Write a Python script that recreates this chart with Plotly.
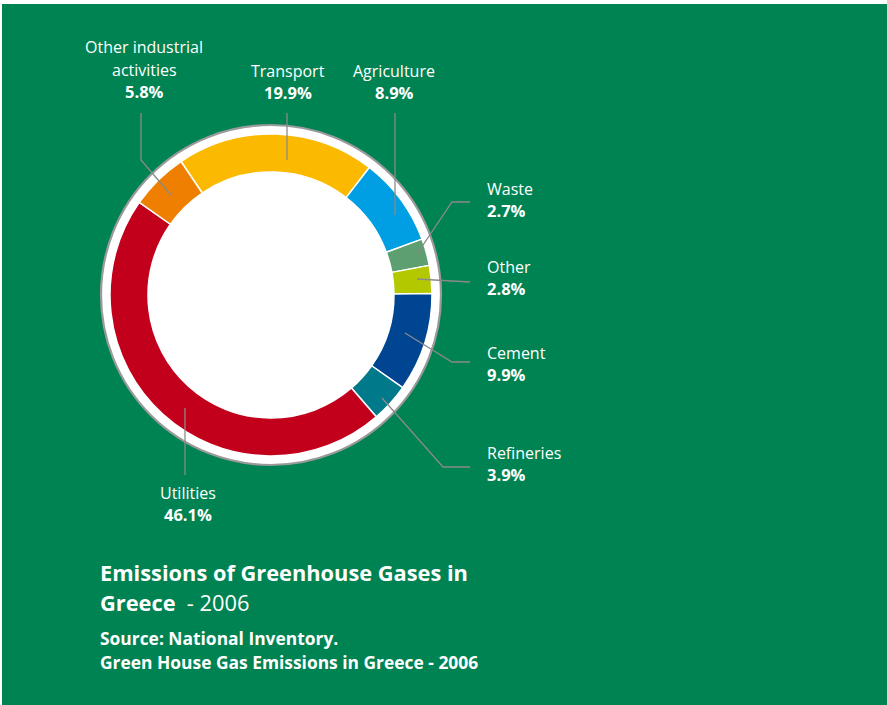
import plotly.graph_objects as go

# ---- data ----
categories = ["Transport", "Agriculture", "Waste", "Other", "Cement",
              "Refineries", "Utilities", "Other industrial activities"]
shares = [19.9, 8.9, 2.7, 2.8, 9.9, 3.9, 46.1, 5.8]
label_lines = [["Transport"], ["Agriculture"], ["Waste"], ["Other"], ["Cement"],
               ["Refineries"], ["Utilities"], ["Other industrial", "activities"]]
title_main = "Emissions of Greenhouse Gases in"
title_main2 = "Greece"
title_year = "  - 2006"
source_lines = ["Source: National Inventory.",
                "Green House Gas Emissions in Greece - 2006"]

# ---- style / layout ----
colors = ["#FBBA00", "#009FE3", "#5E9F72", "#B4C800", "#004592",
          "#007A8A", "#C2001B", "#EE7F00"]
W, H = 887, 705
BG = "#008352"
CX, CY = 271, 295
R_OUT, R_IN, R_RING = 161, 123, 170
FONT = "Open Sans"
LEAD = "#8a8a8a"

# label anchor (x, y of first line, xanchor) per category
label_pos = {
    "Transport": (288, 71, "center"),
    "Agriculture": (394, 71, "center"),
    "Waste": (485, 189, "left"),
    "Other": (485, 267, "left"),
    "Cement": (485, 353, "left"),
    "Refineries": (485, 453, "left"),
    "Utilities": (188, 493, "center"),
    "Other industrial activities": (144, 47, "center"),
}
LINE_GAP = 23
# leader polylines (pixel coords)
leaders = {
    "Transport": [(287, 113), (287, 160)],
    "Agriculture": [(395, 113), (395, 215)],
    "Waste": [(470, 202), (452, 202), (417, 254)],
    "Other": [(470, 282), (417, 279)],
    "Cement": [(470, 362), (452, 362), (405, 333)],
    "Refineries": [(470, 467), (443, 467), (382, 398)],
    "Utilities": [(185, 408), (185, 475)],
    "Other industrial activities": [(141, 113), (141, 160), (171, 195)],
}

fig = go.Figure()

fig.add_trace(go.Pie(
    labels=categories, values=shares, sort=False, direction="clockwise",
    rotation=-34, hole=R_IN / R_OUT,
    marker=dict(colors=colors, line=dict(color="white", width=1.5)),
    textinfo="none", hoverinfo="label+percent", showlegend=False,
    domain=dict(x=[(CX - R_OUT) / W, (CX + R_OUT) / W],
                y=[1 - (CY + R_OUT) / H, 1 - (CY - R_OUT) / H]),
))

shapes = [
    dict(type="rect", xref="x", yref="y", x0=2, x1=W, y0=4, y1=H,
         fillcolor=BG, line=dict(width=0), layer="below"),
    dict(type="circle", xref="x", yref="y", x0=CX - R_RING, x1=CX + R_RING,
         y0=CY - R_RING, y1=CY + R_RING, fillcolor="white",
         line=dict(color="#9a9a9a", width=2.2), layer="below"),
]
for cat in categories:
    pts = leaders[cat]
    path = "M " + " L ".join(f"{x},{y}" for x, y in pts)
    shapes.append(dict(type="path", xref="x", yref="y", path=path,
                       line=dict(color=LEAD, width=1.3)))

annotations = []
for cat, lines, v in zip(categories, label_lines, shares):
    x, y, xa = label_pos[cat]
    for i, t in enumerate(lines):
        annotations.append(dict(x=x, y=y + i * LINE_GAP, xref="x", yref="y",
                                text=t, showarrow=False, xanchor=xa, yanchor="middle",
                                font=dict(family=FONT, size=16, color="white")))
    annotations.append(dict(x=x, y=y + len(lines) * LINE_GAP - 1.5, xref="x", yref="y",
                            text=f"<b>{v:.1f}%</b>", showarrow=False, xanchor=xa,
                            yanchor="middle",
                            font=dict(family=FONT, size=16.5, color="white")))

annotations.append(dict(x=98, y=572, xref="x", yref="y", text=f"<b>{title_main}</b>",
                        showarrow=False, xanchor="left", yanchor="middle",
                        font=dict(family=FONT, size=21.8, color="white")))
annotations.append(dict(x=98, y=602, xref="x", yref="y",
                        text=f"<b>{title_main2}</b>{title_year}",
                        showarrow=False, xanchor="left", yanchor="middle",
                        font=dict(family=FONT, size=21.8, color="white")))
for i, t in enumerate(source_lines):
    annotations.append(dict(x=98, y=638 + i * 24, xref="x", yref="y", text=f"<b>{t}</b>",
                            showarrow=False, xanchor="left", yanchor="middle",
                            font=dict(family=FONT, size=17.4, color="white")))

fig.update_layout(
    width=W, height=H, margin=dict(l=0, r=0, t=0, b=0),
    paper_bgcolor="white", plot_bgcolor="rgba(0,0,0,0)",
    xaxis=dict(range=[0, W], visible=False, fixedrange=True),
    yaxis=dict(range=[H, 0], visible=False, fixedrange=True),
    shapes=shapes, annotations=annotations,
)

fig.write_html(
    "out.html",
    config={"displayModeBar": False},
    post_script="document.body.style.margin='0';document.body.style.overflow='hidden';",
)
